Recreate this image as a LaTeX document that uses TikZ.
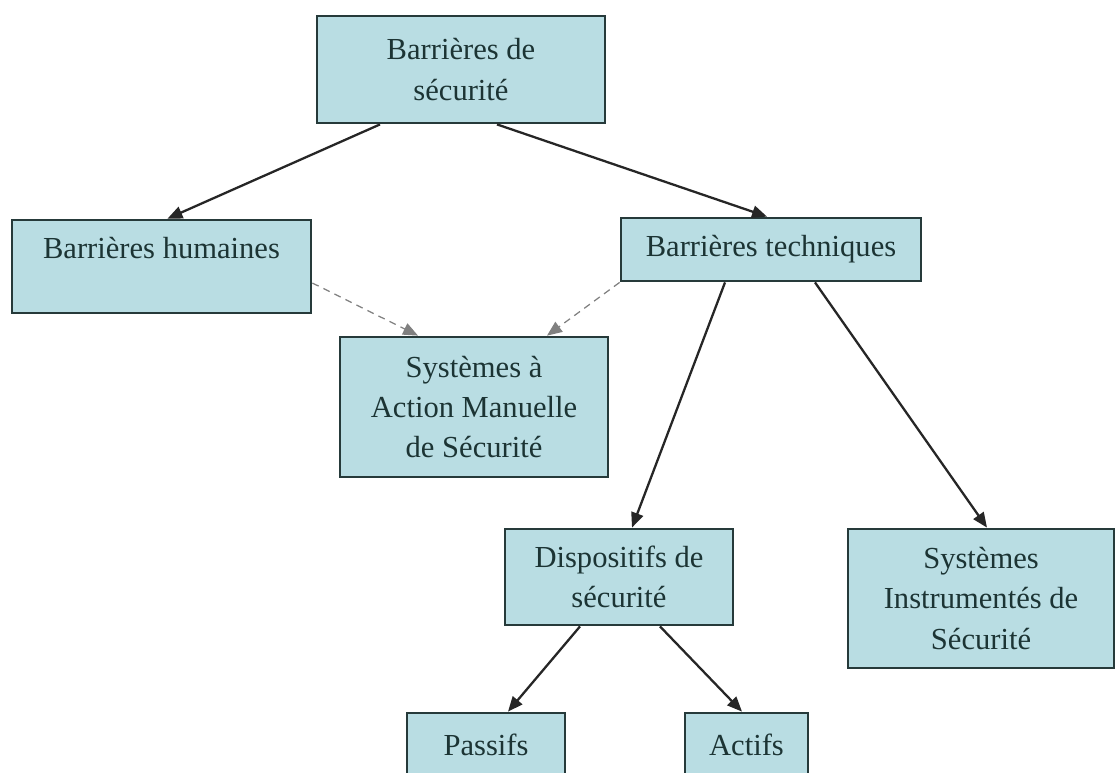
\documentclass[tikz,border=0pt]{standalone}
\usepackage{fontspec}
\setmainfont{Liberation Serif}
\usepackage{tikz}
\usetikzlibrary{arrows.meta,positioning,calc}

\definecolor{boxfill}{RGB}{185,221,227}
\definecolor{boxline}{RGB}{38,58,58}
\definecolor{boxtext}{RGB}{28,52,52}

\tikzset{
  barrier/.style={draw=boxline,line width=1.6pt,fill=boxfill,text=boxtext,
    align=center,inner sep=2pt,font=\fontsize{17.4}{22.8}\selectfont},
  link/.style={-{Triangle[length=8.5pt,width=7pt]},line width=1.3pt,black!85},
  weaklink/.style={-{Triangle[length=8.5pt,width=7pt]},line width=0.7pt,gray,
    dash pattern=on 4pt off 3pt}
}

\begin{document}
\begin{tikzpicture}[x=0.02cm,y=-0.02cm]
  \clip (0,0) rectangle (1118,772);
  \fill[white] (0,0) rectangle (1118,772);

  % boxes
  \node[barrier,minimum width=5.76cm,minimum height=2.14cm] (top) at (461,69.5) {Barrières de\\ sécurité};
  \node[barrier,minimum width=5.98cm,minimum height=1.86cm] (hum) at (161.5,266.5) {Barrières humaines\\[-8pt] \strut};
  \node[barrier,minimum width=6.0cm,minimum height=1.26cm] (tech) at (771,249.5) {Barrières techniques};
  \node[barrier,minimum width=5.36cm,minimum height=2.8cm] (sams) at (474,407) {Systèmes à\\ Action Manuelle\\ de Sécurité};
  \node[barrier,minimum width=4.56cm,minimum height=1.92cm] (disp) at (619,577) {Dispositifs de\\ sécurité};
  \node[barrier,minimum width=5.32cm,minimum height=2.78cm] (sis) at (981,598.5) {Systèmes\\ Instrumentés de\\ Sécurité};
  \node[barrier,minimum width=3.16cm,minimum height=1.28cm] (pass) at (486,745) {Passifs};
  \node[barrier,minimum width=2.46cm,minimum height=1.28cm] (act) at (746.5,745) {Actifs};

  % links
  \draw[link] ($(top.south)+(-81,0)$) -- ($(hum.north)+(6,0)$);
  \draw[link] ($(top.south)+(36,0)$) -- ($(tech.north)+(-4,0)$);
  \draw[weaklink] ($(hum.east)+(0,16.5)$) -- ($(sams.north)+(-56,0)$);
  \draw[weaklink] (tech.south west) -- ($(sams.north)+(73,0)$);
  \draw[link] ($(tech.south)+(-46,0)$) -- ($(disp.north)+(13,0)$);
  \draw[link] ($(tech.south)+(44,0)$) -- ($(sis.north)+(6,0)$);
  \draw[link] ($(disp.south)+(-39,0)$) -- ($(pass.north)+(22,0)$);
  \draw[link] ($(disp.south)+(41,0)$) -- ($(act.north)+(-4.5,0)$);
\end{tikzpicture}
\end{document}
